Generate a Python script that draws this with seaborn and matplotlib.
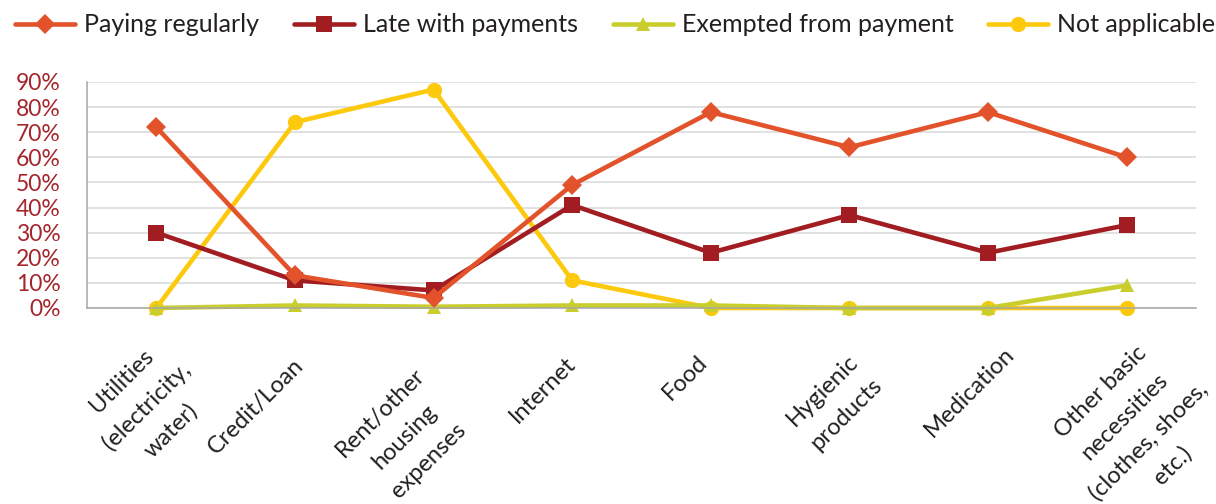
import numpy as np
import pandas as pd
import matplotlib
matplotlib.use("Agg")
import matplotlib.pyplot as plt
import seaborn as sns
from matplotlib.legend_handler import HandlerLine2D
from matplotlib.lines import Line2D
from matplotlib.transforms import offset_copy

# ---- data -------------------------------------------------------------
categories = [
    "Utilities (electricity, water)",
    "Credit/Loan",
    "Rent/other housing expenses",
    "Internet",
    "Food",
    "Hygienic products",
    "Medication",
    "Other basic necessities (clothes, shoes, etc.)",
]
tick_labels = [
    "Utilities\n(electricity,\nwater)",
    "Credit/Loan",
    "Rent/other\nhousing\nexpenses",
    "Internet",
    "Food",
    "Hygienic\nproducts",
    "Medication",
    "Other basic\nnecessities\n(clothes, shoes,\netc.)",
]
series_names = ["Paying regularly", "Late with payments",
                "Exempted from payment", "Not applicable"]
paying_regularly = [72, 13, 4, 49, 78, 64, 78, 60]
late_with_payments = [30, 11, 7, 41, 22, 37, 22, 33]
exempted_from_payment = [0, 1, 0.5, 1, 1, 0, 0, 9]
not_applicable = [0, 74, 87, 11, 0, 0, 0, 0]
y_ticks = [0, 10, 20, 30, 40, 50, 60, 70, 80, 90]

# ---- styling ----------------------------------------------------------
colors = ["#E2522B", "#A11D21", "#C9CE2D", "#FDC90C"]
markers = ["D", "s", "^", "o"]
marker_sizes = [10.5, 11, 10, 11]
label_color = "#A4252B"
text_color = "#231F20"

# per-label placement of the rotated category names (pixels from tick / axis)
label_dx = [-10, -39, -29, -29, -26, -15, -18, 10]
label_dy = [98, 98, 129, 82, 70, 94, 84, 121]

sns.set_theme(style="white")
plt.rcParams["font.family"] = ["Lato", "DejaVu Sans"]

fig = plt.figure(figsize=(12.16, 5.04), dpi=100)
ax = fig.add_axes([87 / 1216, 196 / 504, 1109 / 1216, 226 / 504])

values = [paying_regularly, late_with_payments, exempted_from_payment, not_applicable]
frames = []
for name, vals in zip(series_names, values):
    frames.append(pd.DataFrame({"category": categories, "value": vals, "series": name}))
df = pd.concat(frames, ignore_index=True)

# draw the last series first so "Paying regularly" ends up on top
for idx in reversed(range(len(series_names))):
    sub = df[df["series"] == series_names[idx]]
    sns.lineplot(data=sub, x="category", y="value", sort=False, ax=ax,
                 color=colors[idx], marker=markers[idx],
                 markersize=marker_sizes[idx], markeredgewidth=0,
                 linewidth=3.3, clip_on=False, legend=False,
                 solid_joinstyle="miter")

ax.set_xlim(-0.5, len(categories) - 0.5)
ax.set_ylim(0, 90)
ax.set_yticks(y_ticks)
ax.set_yticklabels([f"{v}%" for v in y_ticks])
ax.tick_params(axis="y", length=0, pad=19, labelsize=16.5, labelcolor=label_color)
ax.tick_params(axis="x", length=0, labelbottom=False)
ax.set_xlabel("")
ax.set_ylabel("")
ax.grid(axis="y", color="#D9D9D9", linewidth=1.1)
ax.grid(axis="x", visible=False)
ax.set_axisbelow(True)
for side in ("top", "right"):
    ax.spines[side].set_visible(False)
for side in ("left", "bottom"):
    ax.spines[side].set_color("#A6A6A6")
    ax.spines[side].set_linewidth(1.1)

# rotated, centred category names below the axis
for i, lab in enumerate(tick_labels):
    tr = offset_copy(ax.get_xaxis_transform(), fig=fig,
                     x=label_dx[i], y=-label_dy[i], units="dots")
    ax.text(i, 0, lab, transform=tr, rotation=45, rotation_mode="anchor",
            ha="center", va="center", multialignment="center",
            linespacing=1.75, fontsize=17, color=text_color, clip_on=False)


class MarkerAtStart(HandlerLine2D):
    """Legend handle with the marker drawn at the left end of the line."""

    def get_xdata(self, legend, xdescent, ydescent, width, height, fontsize):
        xdata = np.array([-xdescent, -xdescent + width], dtype=float)
        return xdata, np.array([-xdescent], dtype=float)


handles = [
    Line2D([], [], color=c, marker=m, markersize=s, markeredgewidth=0, linewidth=3.3)
    for c, m, s in zip(colors, markers, marker_sizes)
]
leg = fig.legend(handles, series_names, loc="center",
                 bbox_to_anchor=(0.506, 1 - 25 / 504), ncol=4, frameon=False,
                 fontsize=18, handlelength=2.4, handletextpad=0.35,
                 columnspacing=1.4, borderpad=0, borderaxespad=0,
                 handler_map={Line2D: MarkerAtStart()})
for t in leg.get_texts():
    t.set_color(text_color)

fig.savefig("out.png", dpi=100)
